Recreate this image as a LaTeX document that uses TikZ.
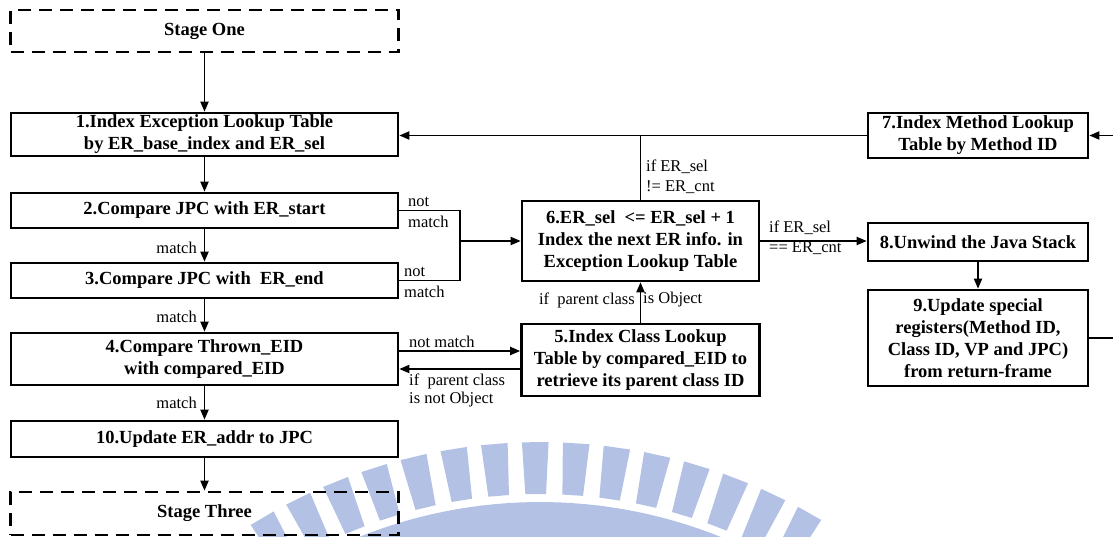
\documentclass[tikz,border=0pt]{standalone}
\usepackage{fontspec}
\setmainfont{Liberation Serif}
\usetikzlibrary{arrows.meta}
\definecolor{wm}{RGB}{178,193,228}
\begin{document}
\begin{tikzpicture}[x=1pt,y=-1pt,
  box/.style={draw, line width=2.6pt, align=center, inner sep=0pt, font=\bfseries\fontsize{18.5}{22}\selectfont},
  stagebox/.style={box, dash pattern=on 13pt off 8pt},
  lbl/.style={inner sep=0pt, font=\fontsize{16.5}{20}\selectfont, align=left},
  arr/.style={line width=1.8pt, -{Triangle[length=10pt,width=8pt]}},
  ln/.style={line width=1.8pt}]
\useasboundingbox (0,0) rectangle (1113,537);
% watermark
\begin{scope}
\clip (0,0) rectangle (1113,537);
\foreach \a in {-30.6,-26.3,...,31} {
  \fill[wm] ({540+494*sin(\a-1.2)},{988-494*cos(\a-1.2)}) -- ({540+546*sin(\a-1.4)},{988-546*cos(\a-1.4)}) -- ({540+546*sin(\a+1.4)},{988-546*cos(\a+1.4)}) -- ({540+494*sin(\a+1.2)},{988-494*cos(\a+1.2)}) -- cycle;
}
\fill[wm] plot[domain=-45:45,samples=60] ({540+486*sin(\x)},{988-486*cos(\x)}) -- plot[domain=45:-45,samples=60] ({540+430*sin(\x)},{988-430*cos(\x)}) -- cycle;
\end{scope}
% boxes
\node[stagebox, minimum width=388pt, minimum height=42pt] (S1) at (204.5,31) {Stage One};
\node[box, minimum width=387pt, minimum height=43pt] (B1) at (204.5,134.5) {1.Index Exception Lookup Table\\by ER\_base\_index and ER\_sel};
\node[box, minimum width=387pt, minimum height=35pt] (B2) at (204.5,210.5) {2.Compare JPC with ER\_start};
\node[box, minimum width=387pt, minimum height=35pt] (B3) at (204.5,280.5) {3.Compare JPC with\ \ ER\_end};
\node[box, minimum width=387pt, minimum height=52pt] (B4) at (204.5,359) {4.Compare Thrown\_EID\\with compared\_EID};
\node[box, minimum width=387pt, minimum height=36pt] (B10) at (204.5,439) {10.Update ER\_addr to JPC};
\node[stagebox, minimum width=388pt, minimum height=43pt] (S3) at (204.5,513.5) {Stage Three};
\node[box, minimum width=237pt, minimum height=80pt] (B6) at (640.5,241) {6.ER\_sel\ \ <= ER\_sel + 1\\Index the next ER info. in\\Exception Lookup Table};
\node[box, minimum width=238pt, minimum height=72pt] (B5) at (640.5,360) {5.Index Class Lookup\\Table by compared\_EID to\\retrieve its parent class ID};
\node[box, minimum width=220pt, minimum height=45pt] (B7) at (978,135.5) {7.Index Method Lookup\\Table by Method ID};
\node[box, minimum width=220pt, minimum height=38pt] (B8) at (978,242) {8.Unwind the Java Stack};
\node[box, minimum width=220pt, minimum height=96pt] (B9) at (978,338) {9.Update special\\registers(Method ID,\\Class ID, VP and JPC)\\from return-frame};
% helper coordinates
\coordinate (J) at (460,241);
\coordinate (J2) at (460,210.5);
\coordinate (J3) at (460,280.5);
\coordinate (Y1) at (0,351);
\coordinate (Y2) at (0,369);
\coordinate (E7) at (1113,135.5);
\coordinate (E9) at (1113,338);
% connectors
\draw[arr] (S1.south) -- (B1.north);
\draw[arr] (B1.south) -- (B2.north);
\draw[arr] (B2.south) -- (B3.north);
\draw[arr] (B3.south) -- (B4.north);
\draw[arr] (B4.south) -- (B10.north);
\draw[arr] (B10.south) -- (S3.north);
\draw[ln] (B2.east) -- (J2) -- (J3) -- (B3.east);
\draw[arr] (J) -- (J -| B6.west);
\draw[arr] (B7.west) -- (B7.west -| B1.east);
\draw[ln] (B6.north) -- (B6.north |- B7.west);
\draw[arr] (B6.east) -- (B6.east -| B8.west);
\draw[arr] (B8.south) -- (B9.north);
\draw[ln] (B9.east) -- (E9);
\draw[arr] (E7) -- (B7.east);
\draw[arr] (B4.east |- Y1) -- (B5.west |- Y1);
\draw[arr] (B5.west |- Y2) -- (B4.east |- Y2);
\draw[arr] (B5.north) -- (B6.south);
% labels
\node[lbl, anchor=east] (m1) at (197,248) {match};
\node[lbl, anchor=east] (m2) at (197,317) {match};
\node[lbl, anchor=east] (m3) at (197,403) {match};
\node[lbl, anchor=west] (n1) at (408,202) {not};
\node[lbl, anchor=west] (n2) at (408,222) {match};
\node[lbl, anchor=west] (n3) at (404,272) {not};
\node[lbl, anchor=west] (n4) at (404,292) {match};
\node[lbl, anchor=west] (c1) at (646,167) {if ER\_sel};
\node[lbl, anchor=west] (c2) at (646,187) {!= ER\_cnt};
\node[lbl, anchor=west] (c3) at (769,228) {if ER\_sel};
\node[lbl, anchor=west] (c4) at (769,248) {== ER\_cnt};
\node[lbl, anchor=west] (nm) at (409,342) {not match};
\node[lbl, anchor=west] (p1) at (409,381) {if\ \ parent class};
\node[lbl, anchor=west] (p2) at (409,400) {is not Object};
\node[lbl, anchor=east] (p3) at (635,300) {if\ \ parent class};
\node[lbl, anchor=west] (p4) at (643,300) {is Object};
\end{tikzpicture}
\end{document}
